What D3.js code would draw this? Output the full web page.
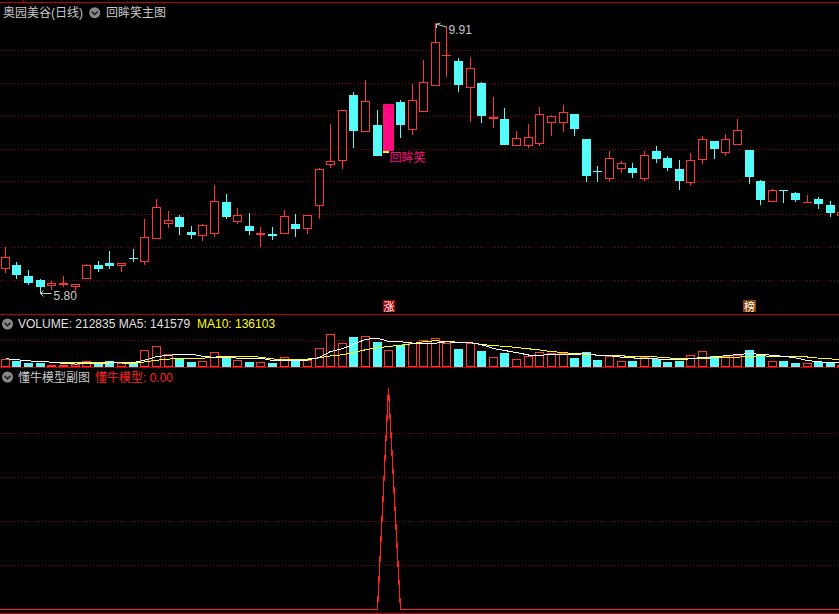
<!DOCTYPE html>
<html><head><meta charset="utf-8">
<script src="https://cdn.jsdelivr.net/npm/d3@7/dist/d3.min.js"></script>
<style>
html,body{margin:0;padding:0;background:#000;overflow:hidden}
svg{display:block;background:#000}
text{font-family:"Liberation Sans","Noto Sans CJK SC",sans-serif;font-size:12px}
</style></head><body>
<svg id="c" width="839" height="614"></svg>
<script>
// ---- data (daily candles, left to right) ----
const opens  = [6.16,6.23,6.06,6.00,5.91,5.93,5.90,6.02,6.23,6.26,6.21,6.34,6.27,6.63,6.85,6.96,6.73,6.67,6.70,7.19,6.89,6.82,6.69,6.70,6.70,6.85,6.77,7.13,7.75,7.81,8.82,8.26,8.36,7.96,8.71,8.29,8.56,8.95,9.42,9.33,8.92,9.00,8.45,8.45,8.04,8.04,8.07,8.39,8.39,8.53,8.15,7.66,7.54,7.69,7.70,7.54,7.96,7.86,7.69,7.48,7.82,8.12,7.94,8.06,7.98,7.51,7.19,7.37,7.32,7.18,7.23,7.14,6.98];
const highs  = [6.50,6.27,6.15,6.01,5.98,6.06,5.94,6.24,6.29,6.44,6.26,6.47,6.93,7.23,7.05,6.99,6.82,6.85,7.45,7.31,7.10,7.02,6.81,6.81,7.07,7.00,6.99,7.70,8.37,8.59,8.86,9.04,8.59,8.68,8.74,8.99,9.35,9.91,9.87,9.38,9.38,9.02,8.79,8.62,8.27,8.37,8.63,8.51,8.66,8.53,8.15,7.74,7.96,7.81,7.78,7.96,8.04,7.89,7.83,7.93,8.19,8.12,8.22,8.45,7.98,7.52,7.39,7.37,7.34,7.29,7.26,7.20,7.05];
const lows   = [6.12,6.03,5.94,5.80,5.87,5.91,5.85,6.02,6.13,6.18,6.14,6.29,6.24,6.63,6.80,6.70,6.64,6.61,6.67,6.95,6.87,6.70,6.51,6.62,6.70,6.67,6.72,6.94,7.72,7.71,8.02,8.26,7.89,7.96,8.18,8.22,8.56,8.95,9.11,8.88,8.42,8.40,8.33,8.05,8.04,8.02,8.06,8.21,8.27,8.21,7.50,7.51,7.51,7.65,7.57,7.52,7.80,7.67,7.39,7.45,7.78,7.85,7.91,8.06,7.47,7.15,7.18,7.19,7.21,7.18,7.09,6.98,6.97];
const closes = [6.35,6.08,5.96,5.90,5.95,5.95,5.94,6.23,6.17,6.21,6.26,6.32,6.65,7.11,6.92,6.81,6.69,6.83,7.21,6.96,6.99,6.74,6.72,6.67,6.97,6.78,6.99,7.69,7.81,8.59,8.27,8.72,7.89,8.68,8.36,8.74,9.01,9.63,9.43,8.97,9.22,8.50,8.48,8.05,8.16,8.17,8.52,8.49,8.55,8.30,7.58,7.64,7.85,7.78,7.63,7.91,7.84,7.70,7.51,7.82,8.14,8.00,8.14,8.28,7.57,7.22,7.37,7.35,7.22,7.19,7.15,7.02,7.04];
const volumes = [166000,126000,74000,74000,46000,46000,54000,120000,60000,126000,74000,74000,340000,420000,266000,152000,106000,126000,300000,226000,140000,106000,100000,86000,200000,160000,140000,380000,666000,480000,606000,626000,506000,340000,446000,472000,540000,580000,486000,366000,472000,326000,200000,286000,160000,226000,300000,272000,272000,186000,306000,146000,220000,120000,126000,192000,160000,106000,126000,240000,320000,220000,220000,246000,340000,240000,120000,126000,86000,80000,100000,72000,46000];
const modelValues = opens.map((d,i)=> i===33 ? 1 : 0);   // 懂牛模型: signal on one day only
const signalIndex = 33;                                   // 回眸笑 signal day
const badgeIndex = [33, 64];
const badgeText = ["涨", "榜"];
const priceTicks = [6.0,6.5,7.0,7.5,8.0,8.5,9.0,9.5];
const volumeTicks = [540000];
const modelTicks = [0.2,0.4,0.6,0.8];
const headerVolume = 212835, headerMA5 = 141579, headerMA10 = 136103, headerModel = 0.00;
const stockTitle = "奥园美谷(日线)", mainTitle = "回眸笑主图", subTitle = "懂牛模型副图", modelName = "懂牛模型";

// ---- drawing ----
const RED = "#ff3434", CYAN = "#54fcfc", MAG = "#ff0a80", GRID = "#8c0000", SEP = "#c00000", TXT = "#c8c8c8";
const svg = d3.select("#c");
const n = opens.length;
const x = d3.scaleBand().domain(d3.range(n)).range([-0.51, 847.75]).paddingInner(0.23).paddingOuter(0.115);
const yP = d3.scaleLinear().domain([6, 9.5]).range([280, 50.05]);
const yV = d3.scaleLinear().domain([0, 1e6]).range([367, 317]);
const yM = d3.scaleLinear().domain([0, 1]).range([609.5, 388.5]);
const bx = i => Math.round(x(i));
const cx = i => bx(i) + 4.5;
const W = 839;

const g = svg.append("g").attr("shape-rendering","crispEdges");

// gridlines
function hgrid(yv){ g.append("line").attr("x1",0).attr("x2",W).attr("y1",yv).attr("y2",yv)
  .attr("stroke",GRID).attr("stroke-width",1).attr("stroke-dasharray","1,2"); }
priceTicks.forEach(t => hgrid(Math.round(yP(t))+0.5));
volumeTicks.forEach(t => hgrid(Math.round(yV(t))+0.5));
modelTicks.forEach(t => hgrid(Math.round(yM(t))+0.5));

// separators
[2.5, 314.5, 367.5, 613.5].forEach(yv => g.append("line").attr("x1",0).attr("x2",W).attr("y1",yv).attr("y2",yv).attr("stroke",SEP));
g.append("line").attr("x1",23.5).attr("x2",23.5).attr("y1",0).attr("y2",2).attr("stroke",SEP);

// candles
const cg = g.append("g");
for (let i=0;i<n;i++){
  const o=opens[i], c=closes[i], h=highs[i], l=lows[i];
  const up = c >= o;
  const col = i===signalIndex ? MAG : (up ? RED : CYAN);
  const yt = Math.round(yP(Math.max(o,c))), yb = Math.round(yP(Math.min(o,c)));
  const yh = Math.round(yP(h)), yl = Math.round(yP(l));
  const X = bx(i), C = cx(i);
  if (yh < yt) cg.append("line").attr("x1",C).attr("x2",C).attr("y1",yh).attr("y2",yt).attr("stroke",col);
  if (yl > yb) cg.append("line").attr("x1",C).attr("x2",C).attr("y1",yb).attr("y2",yl+1).attr("stroke",col);
  if (i===signalIndex){
    cg.append("rect").attr("x",X-1).attr("y",yt).attr("width",11).attr("height",Math.max(1,yb-yt)).attr("fill",MAG);
    cg.append("rect").attr("x",X-1).attr("y",yb).attr("width",6).attr("height",1.5).attr("fill","#ffff00");
  } else if (up){
    if (yb-yt >= 2) cg.append("rect").attr("x",X+0.5).attr("y",yt+0.5).attr("width",8).attr("height",yb-yt-1).attr("fill","#000").attr("stroke",col);
    else cg.append("rect").attr("x",X).attr("y",yt).attr("width",9).attr("height",Math.max(1,yb-yt)).attr("fill",col);
  } else {
    cg.append("rect").attr("x",X).attr("y",yt).attr("width",9).attr("height",Math.max(1,yb-yt)).attr("fill",col);
  }
}

// volume bars
const vg = g.append("g");
for (let i=0;i<n;i++){
  const up = closes[i] >= opens[i];
  const top = Math.round(yV(volumes[i]));
  const X = bx(i);
  if (up) vg.append("rect").attr("x",X+0.5).attr("y",top+0.5).attr("width",8).attr("height",Math.max(0,366-top)).attr("fill","#000").attr("stroke",RED);
  else vg.append("rect").attr("x",X).attr("y",top).attr("width",9).attr("height",Math.max(1,367-top)).attr("fill",CYAN);
}
// moving averages of volume
function ma(k){ return volumes.map((v,i)=> d3.mean(volumes.slice(Math.max(0,i-k+1), i+1))); }
const ma5 = ma(5), ma10 = ma(10);
const line = d3.line().x((d,i)=>cx(i)).y(d=>yV(d));
svg.append("path").datum(ma10).attr("d",line).attr("fill","none").attr("stroke","#ffff00").attr("stroke-width",1).attr("shape-rendering","crispEdges");
svg.append("path").datum(ma5).attr("d",line).attr("fill","none").attr("stroke","#ffffff").attr("stroke-width",1).attr("shape-rendering","crispEdges");

// model line
const mline = d3.line().x((d,i)=>cx(i)).y(d=>yM(d));
svg.append("line").attr("x1",0).attr("x2",cx(0)).attr("y1",yM(0)).attr("y2",yM(0)).attr("stroke","#ff2020").attr("shape-rendering","crispEdges");
svg.append("path").datum(modelValues).attr("d",mline).attr("fill","none").attr("stroke","#ff2020").attr("stroke-width",1.3).attr("shape-rendering","crispEdges");

// high / low labels
const iHi = d3.maxIndex(highs), iLo = d3.minIndex(lows);
const hx = cx(iHi)+1, hy = yP(highs[iHi])+1;
svg.append("path").attr("d",`M${hx+10},${hy+3} L${hx},${hy} M${hx},${hy} L${hx},${hy+4} M${hx},${hy} L${hx+4},${hy-1}`)
  .attr("stroke",TXT).attr("fill","none").attr("stroke-width",1);
svg.append("text").attr("x",hx+12).attr("y",hy+9.5).attr("fill",TXT).text(highs[iHi].toFixed(2));
const lx = cx(iLo), ly = Math.round(yP(lows[iLo]))+0.5;
svg.append("path").attr("d",`M${lx+11},${ly} L${lx},${ly} M${lx},${ly} L${lx+3},${ly-3} M${lx},${ly} L${lx+3},${ly+3}`)
  .attr("stroke",TXT).attr("fill","none").attr("stroke-width",1);
svg.append("text").attr("x",lx+13).attr("y",ly+6).attr("fill",TXT).text(lows[iLo].toFixed(2));

// signal label
svg.append("text").attr("x",cx(signalIndex)+1).attr("y",Math.round(yP(opens[signalIndex]))+11).attr("fill",MAG).text("回眸笑");

// badges
const badgeFill = ["#a00000", "#8a4300"];
badgeIndex.forEach((bi,k)=>{
  const w = k===0 ? 12 : 13;
  svg.append("rect").attr("x",Math.round(cx(bi)-w/2)).attr("y",300).attr("width",w).attr("height",12).attr("fill",badgeFill[k]);
  svg.append("text").attr("x",Math.round(cx(bi)-w/2)+w/2).attr("y",310.5).attr("text-anchor","middle").attr("fill","#ffffff")
    .style("font-size","11px").text(badgeText[k]);
});

// headers
function icon(x0,y0){
  svg.append("circle").attr("cx",x0).attr("cy",y0).attr("r",5.5).attr("fill","#8a8a8a");
  svg.append("path").attr("d",`M${x0-3},${y0-1.2} L${x0},${y0+1.8} L${x0+3},${y0-1.2}`).attr("stroke","#1e1e1e").attr("stroke-width",1.6).attr("fill","none");
}
svg.append("text").attr("x",3).attr("y",17).attr("fill",TXT).text(stockTitle);
icon(94.7,12.7);
svg.append("text").attr("x",106).attr("y",17).attr("fill",TXT).text(mainTitle);

icon(7.5,324);
svg.append("text").attr("x",18).attr("y",327.5).attr("fill","#e0e0e0").text(`VOLUME: ${headerVolume} MA5: ${headerMA5}`);
svg.append("text").attr("x",197).attr("y",327.5).attr("fill","#ffff00").text(`MA10: ${headerMA10}`);

icon(7.5,377);
svg.append("text").attr("x",18).attr("y",381.5).attr("fill",TXT).text(subTitle);
svg.append("text").attr("x",95).attr("y",381.5).attr("fill","#ff2020").text(`${modelName}: ${headerModel.toFixed(2)}`);
</script>
</body></html>
